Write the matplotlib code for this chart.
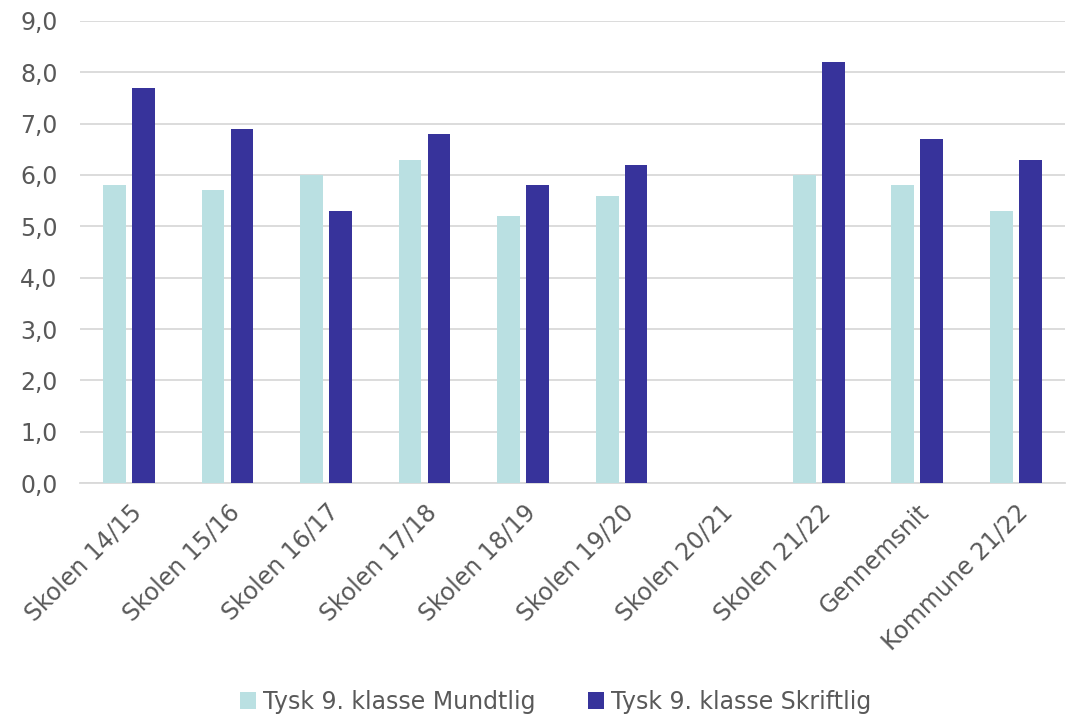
import matplotlib
matplotlib.use("Agg")
import matplotlib.pyplot as plt
import numpy as np

categories = ["Skolen 14/15", "Skolen 15/16", "Skolen 16/17", "Skolen 17/18",
              "Skolen 18/19", "Skolen 19/20", "Skolen 20/21", "Skolen 21/22",
              "Gennemsnit", "Kommune 21/22"]
mundtlig = [5.8, 5.7, 6.0, 6.3, 5.2, 5.6, np.nan, 6.0, 5.8, 5.3]
skriftlig = [7.7, 6.9, 5.3, 6.8, 5.8, 6.2, np.nan, 8.2, 6.7, 6.3]
series_names = ["Tysk 9. klasse Mundtlig", "Tysk 9. klasse Skriftlig"]
yticks = [0, 1, 2, 3, 4, 5, 6, 7, 8, 9]

plt.rcParams['font.family'] = ['DejaVu Sans']
text_color = "#595959"

fig = plt.figure(figsize=(10.79, 7.16), dpi=100)
ax = fig.add_axes([0.074, 0.3254, 0.913, 0.6453])

x = np.arange(len(categories))
w = 0.23
off = 0.147
ax.bar(x - off, mundtlig, width=w, color="#BAE0E2", label=series_names[0], zorder=3)
ax.bar(x + off, skriftlig, width=w, color="#37339B", label=series_names[1], zorder=3)

ax.set_xlim(-0.5, len(categories) - 0.5)
ax.set_ylim(0, 9)
ax.set_yticks(yticks)
ax.set_yticklabels([f"{v:.1f}".replace(".", ",") for v in yticks], fontsize=17, color=text_color)
ax.set_xticks(x)
ax.set_xticklabels(categories, rotation=45, ha="right", rotation_mode="anchor",
                   fontsize=17, color=text_color)
ax.tick_params(axis="y", length=0, pad=16)
ax.tick_params(axis="x", length=0, pad=12)
ax.grid(axis="y", color="#D9D9D9", linewidth=1.3, zorder=0)
for s in ["top", "right", "left"]:
    ax.spines[s].set_visible(False)
ax.spines["bottom"].set_color("#D9D9D9")
ax.spines["bottom"].set_linewidth(1.3)

leg = fig.legend(loc="center", bbox_to_anchor=(0.515, 0.02), ncol=2, frameon=False,
                 fontsize=17, handlelength=0.7, handleheight=0.7, handletextpad=0.3,
                 columnspacing=2.2)
for t in leg.get_texts():
    t.set_color(text_color)

fig.savefig("out.png", dpi=100)
